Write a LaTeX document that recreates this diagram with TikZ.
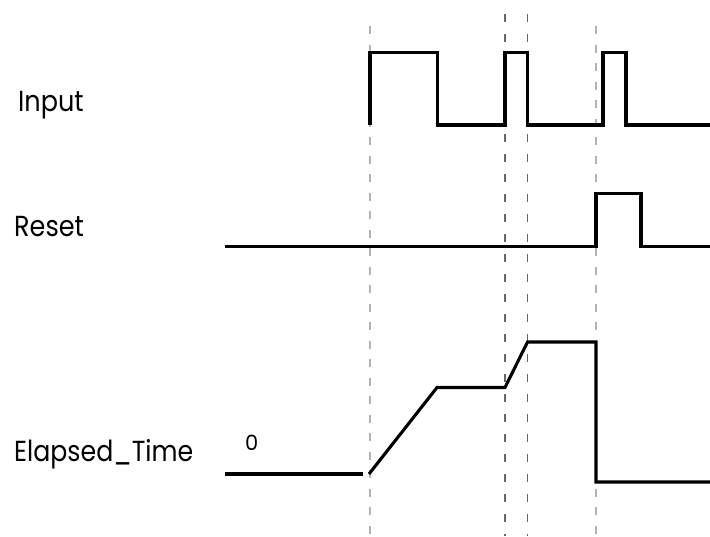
\documentclass[tikz,border=0pt]{standalone}
\usepackage{fontspec}
\setmainfont{Poppins}
\begin{document}
\begin{tikzpicture}[x=1pt,y=-1pt,
  wave/.style={line width=3.1pt, line join=miter, black},
  guidelight/.style={line width=1.3pt, draw=black!30, dash pattern=on 8pt off 10.5pt},
  guidedark/.style={line width=1.3pt, draw=black!60, dash pattern=on 8pt off 12pt},
  lbl/.style={anchor=base west, inner sep=0pt, font=\fontsize{29}{33}\selectfont}]
\useasboundingbox (0,0) rectangle (710,536);
% guides
\draw[guidelight] (370,26) -- (370,536);
\draw[guidelight] (596,26) -- (596,536);
\draw[guidedark] (505,14) -- (505,536);
\draw[guidedark] (527.5,14) -- (527.5,536);
% labels
\node[lbl] (lin) at (18,111.7) {\scalebox{0.88}[1]{Input}};
\node[lbl] (lrs) at (14,236.7) {\scalebox{0.88}[1]{Reset}};
\node[lbl] (lel) at (14,461) {\scalebox{0.87}[1]{Elapsed\_Time}};
\node[anchor=base west, inner sep=0pt, font=\fontsize{21}{24}\selectfont] (lz) at (245,450) {0};
% input
\draw[wave] (370,125) -- (370,52.5) -- (437.5,52.5) -- (437.5,125) -- (505,125) -- (505,52.5)
  -- (527.5,52.5) -- (527.5,125) -- (603,125) -- (603,52.5) -- (626,52.5) -- (626,125) -- (710,125);
% reset
\draw[wave] (225,246.5) -- (596,246.5) -- (596,193.5) -- (641,193.5) -- (641,246.5) -- (710,246.5);
% elapsed time
\draw[wave] (225,474) -- (363,474);
\draw[wave] (369,474) -- (437,387.5) -- (505,387.5) -- (527.5,342) -- (596,342) -- (596,482) -- (710,482);
\end{tikzpicture}
\end{document}
